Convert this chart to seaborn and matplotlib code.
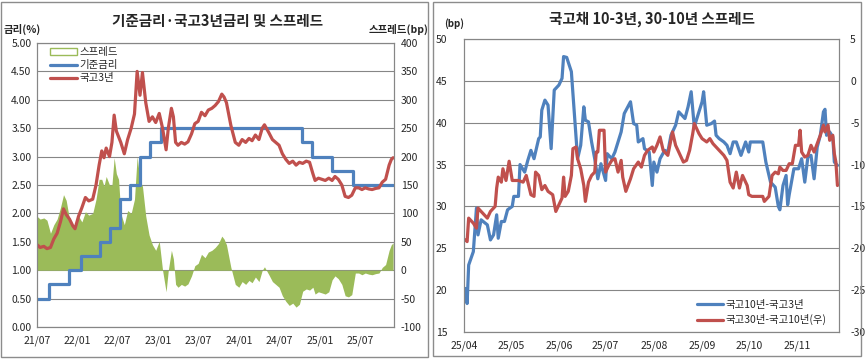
import numpy as np
import pandas as pd
import seaborn as sns
import matplotlib
matplotlib.use("Agg")
import matplotlib.pyplot as plt
import matplotlib.dates as mdates
from matplotlib.patches import Rectangle, Patch
from matplotlib.lines import Line2D

# ---------------- data: left chart ----------------
base_dates = ["2021-07-01", "2021-08-26", "2021-11-25", "2022-01-14", "2022-04-14",
              "2022-05-26", "2022-07-13", "2022-08-25", "2022-10-12", "2022-11-24",
              "2023-01-13", "2024-10-11", "2024-11-28", "2025-02-25", "2025-05-29",
              "2025-11-28"]
base_rate = [0.50, 0.75, 1.00, 1.25, 1.50, 1.75, 2.25, 2.50, 3.00, 3.25,
             3.50, 3.25, 3.00, 2.75, 2.50, 2.50]

ktb3_dates = ["2021-07-01", "2021-07-15", "2021-08-01", "2021-08-15", "2021-08-31",
              "2021-09-15", "2021-09-30", "2021-10-15", "2021-10-29", "2021-11-10",
              "2021-11-25", "2021-12-10", "2021-12-20", "2022-01-05", "2022-01-20",
              "2022-02-05", "2022-02-20", "2022-03-10", "2022-03-25", "2022-04-08",
              "2022-04-20", "2022-04-30", "2022-05-10", "2022-05-25", "2022-06-05",
              "2022-06-15", "2022-06-25", "2022-07-05", "2022-07-15", "2022-07-31",
              "2022-08-15", "2022-08-31", "2022-09-15", "2022-09-27", "2022-10-10",
              "2022-10-21", "2022-11-05", "2022-11-20", "2022-12-05", "2022-12-20",
              "2023-01-05", "2023-01-20", "2023-02-05", "2023-02-15", "2023-03-01",
              "2023-03-10", "2023-03-20", "2023-03-31", "2023-04-15", "2023-04-30",
              "2023-05-15", "2023-05-31", "2023-06-15", "2023-06-30", "2023-07-15",
              "2023-07-31", "2023-08-15", "2023-08-31", "2023-09-15", "2023-09-30",
              "2023-10-15", "2023-10-25", "2023-11-05", "2023-11-25", "2023-12-15",
              "2023-12-31", "2024-01-15", "2024-01-31", "2024-02-15", "2024-02-29",
              "2024-03-15", "2024-03-31", "2024-04-15", "2024-04-25", "2024-05-15",
              "2024-05-31", "2024-06-15", "2024-06-30", "2024-07-15", "2024-07-31",
              "2024-08-15", "2024-08-31", "2024-09-15", "2024-09-30", "2024-10-15",
              "2024-10-31", "2024-11-15", "2024-11-30", "2024-12-10", "2024-12-25",
              "2025-01-10", "2025-01-25", "2025-02-10", "2025-02-25", "2025-03-10",
              "2025-03-25", "2025-04-10", "2025-04-25", "2025-05-10", "2025-05-25",
              "2025-06-10", "2025-06-25", "2025-07-10", "2025-07-25", "2025-08-10",
              "2025-08-25", "2025-09-10", "2025-09-25", "2025-10-10", "2025-10-25",
              "2025-11-10", "2025-11-20", "2025-11-28"]
ktb3_yield = [1.45, 1.40, 1.42, 1.38, 1.40,
              1.55, 1.65, 1.85, 2.08, 1.98,
              1.90, 1.78, 1.73, 1.95, 2.10,
              2.28, 2.22, 2.25, 2.50, 2.85,
              3.10, 2.98, 3.15, 3.00, 3.25,
              3.73, 3.45, 3.35, 3.25, 3.05,
              3.30, 3.50, 3.75, 4.50, 4.08,
              4.48, 3.95, 3.62, 3.70, 3.60,
              3.76, 3.50, 3.12, 3.50, 3.85,
              3.70, 3.25, 3.20, 3.25, 3.22,
              3.26, 3.40, 3.58, 3.62, 3.78,
              3.72, 3.82, 3.85, 3.90, 3.97,
              4.10, 4.05, 3.95, 3.55, 3.25,
              3.20, 3.30, 3.25, 3.32, 3.28,
              3.38, 3.30, 3.50, 3.56, 3.42,
              3.30, 3.25, 3.20, 3.05, 2.95,
              2.88, 2.92, 2.85, 2.90, 2.88,
              2.92, 2.90, 2.70, 2.58, 2.62,
              2.60, 2.58, 2.62, 2.58, 2.65,
              2.60, 2.50, 2.30, 2.28, 2.32,
              2.45, 2.45, 2.42, 2.45, 2.43,
              2.42, 2.44, 2.45, 2.55, 2.60,
              2.85, 2.95, 2.98]

# ---------------- data: right chart ----------------
s103_dates = ["2025-04-02", "2025-04-03", "2025-04-04", "2025-04-07", "2025-04-09",
              "2025-04-10", "2025-04-12", "2025-04-16", "2025-04-18", "2025-04-20",
              "2025-04-22", "2025-04-23", "2025-04-25", "2025-04-27", "2025-04-29",
              "2025-05-02", "2025-05-03", "2025-05-06", "2025-05-07", "2025-05-10",
              "2025-05-12", "2025-05-14", "2025-05-16", "2025-05-19", "2025-05-20",
              "2025-05-21", "2025-05-23", "2025-05-25", "2025-05-27", "2025-05-29",
              "2025-06-01", "2025-06-03", "2025-06-04", "2025-06-06", "2025-06-09",
              "2025-06-11", "2025-06-13", "2025-06-15", "2025-06-17", "2025-06-18",
              "2025-06-20", "2025-06-22", "2025-06-24", "2025-06-26", "2025-06-28",
              "2025-07-01", "2025-07-02", "2025-07-05", "2025-07-07", "2025-07-09",
              "2025-07-11", "2025-07-13", "2025-07-17", "2025-07-19", "2025-07-21",
              "2025-07-22", "2025-07-25", "2025-07-26", "2025-07-29", "2025-07-31",
              "2025-08-01", "2025-08-03", "2025-08-05", "2025-08-08", "2025-08-10",
              "2025-08-12", "2025-08-15", "2025-08-17", "2025-08-19", "2025-08-21",
              "2025-08-23", "2025-08-25", "2025-08-27", "2025-08-30", "2025-09-01",
              "2025-09-02", "2025-09-04", "2025-09-07", "2025-09-09", "2025-09-10",
              "2025-09-12", "2025-09-15", "2025-09-17", "2025-09-19", "2025-09-21",
              "2025-09-23", "2025-09-26", "2025-09-29", "2025-10-01", "2025-10-02",
              "2025-10-10", "2025-10-12", "2025-10-15", "2025-10-18", "2025-10-20",
              "2025-10-21", "2025-10-23", "2025-10-25", "2025-10-26", "2025-10-27",
              "2025-10-30", "2025-11-02", "2025-11-04", "2025-11-06", "2025-11-08",
              "2025-11-10", "2025-11-12", "2025-11-14", "2025-11-16", "2025-11-18",
              "2025-11-19", "2025-11-20", "2025-11-22", "2025-11-24", "2025-11-25",
              "2025-11-27"]
s103 = [20.2, 18.4, 23.0, 24.6, 29.8,
        26.6, 28.4, 27.8, 26.0, 26.6,
        29.0, 26.2, 28.2, 28.2, 29.6,
        30.0, 31.2, 31.2, 35.0, 34.1,
        35.5, 36.7, 35.7, 38.1, 38.3,
        41.5, 42.7, 42.1, 36.9, 43.9,
        44.5, 45.3, 47.9, 47.8, 46.1,
        40.9, 35.7, 37.3, 41.9, 40.3,
        40.1, 37.7, 35.7, 33.3, 35.1,
        33.1, 36.3, 35.7, 36.5, 37.7,
        38.9, 41.1, 42.5, 39.9, 39.7,
        37.7, 38.1, 36.9, 36.5, 32.5,
        35.3, 34.1, 35.7, 36.7, 36.5,
        38.5, 39.7, 41.3, 40.9, 40.5,
        41.9, 43.7, 39.5, 41.3, 42.5,
        43.7, 39.7, 39.9, 40.2, 38.5,
        38.1, 37.7, 37.3, 36.3, 37.7,
        37.7, 36.1, 37.7, 36.5, 37.7,
        37.7, 35.3, 32.9, 32.3, 30.0,
        29.6, 32.5, 33.7, 30.2, 31.4,
        34.5, 34.5, 35.7, 32.9, 35.9,
        36.1, 33.3, 37.1, 38.5, 41.3,
        41.6, 38.5, 38.9, 38.3, 35.3,
        34.9]

s3010_dates = ["2025-04-02", "2025-04-03", "2025-04-04", "2025-04-07", "2025-04-09",
               "2025-04-10", "2025-04-12", "2025-04-16", "2025-04-18", "2025-04-21",
               "2025-04-22", "2025-04-23", "2025-04-25", "2025-04-26", "2025-04-28",
               "2025-04-30", "2025-05-02", "2025-05-06", "2025-05-09", "2025-05-11",
               "2025-05-14", "2025-05-16", "2025-05-17", "2025-05-19", "2025-05-21",
               "2025-05-23", "2025-05-25", "2025-05-28", "2025-05-30", "2025-06-01",
               "2025-06-03", "2025-06-04", "2025-06-05", "2025-06-07", "2025-06-09",
               "2025-06-10", "2025-06-12", "2025-06-13", "2025-06-15", "2025-06-17",
               "2025-06-18", "2025-06-20", "2025-06-22", "2025-06-24", "2025-06-25",
               "2025-06-26", "2025-06-27", "2025-06-30", "2025-07-01", "2025-07-03",
               "2025-07-05", "2025-07-07", "2025-07-09", "2025-07-11", "2025-07-12",
               "2025-07-14", "2025-07-17", "2025-07-19", "2025-07-22", "2025-07-24",
               "2025-07-26", "2025-07-28", "2025-07-31", "2025-08-01", "2025-08-03",
               "2025-08-05", "2025-08-07", "2025-08-10", "2025-08-13", "2025-08-15",
               "2025-08-18", "2025-08-20", "2025-08-22", "2025-08-24", "2025-08-26",
               "2025-08-27", "2025-08-30", "2025-09-01", "2025-09-04", "2025-09-06",
               "2025-09-08", "2025-09-10", "2025-09-12", "2025-09-15", "2025-09-17",
               "2025-09-19", "2025-09-21", "2025-09-23", "2025-09-25", "2025-09-27",
               "2025-09-30", "2025-10-01", "2025-10-03", "2025-10-10", "2025-10-11",
               "2025-10-14", "2025-10-16", "2025-10-18", "2025-10-20", "2025-10-21",
               "2025-10-23", "2025-10-25", "2025-10-27", "2025-10-29", "2025-10-31",
               "2025-11-02", "2025-11-03", "2025-11-04", "2025-11-06", "2025-11-08",
               "2025-11-10", "2025-11-12", "2025-11-14", "2025-11-16", "2025-11-18",
               "2025-11-19", "2025-11-21", "2025-11-22", "2025-11-24", "2025-11-25",
               "2025-11-26", "2025-11-27"]
s3010 = [-19.0, -19.2, -16.4, -17.0, -17.6,
         -15.2, -15.6, -16.4, -15.6, -15.0,
         -12.8, -11.5, -12.1, -10.5, -11.9,
         -9.6, -11.9, -11.9, -12.1, -11.3,
         -13.6, -13.8, -10.9, -11.3, -13.0,
         -12.5, -13.2, -13.6, -15.6, -14.8,
         -14.0, -11.5, -13.8, -13.2, -11.3,
         -8.1, -7.9, -9.3, -10.5, -12.5,
         -14.4, -12.1, -11.3, -10.9, -8.5,
         -8.5, -5.9, -5.9, -10.9, -10.1,
         -9.5, -9.3, -10.9, -9.5, -11.5,
         -13.2, -11.7, -10.5, -9.7, -10.3,
         -8.9, -8.3, -7.9, -8.5, -7.7,
         -6.7, -8.3, -8.9, -6.1, -7.7,
         -8.9, -9.7, -9.5, -8.3, -6.3,
         -5.1, -6.3, -6.9, -7.3, -6.9,
         -7.5, -7.9, -8.3, -8.9, -9.5,
         -12.1, -12.8, -10.9, -12.8, -11.3,
         -12.5, -13.6, -13.8, -13.8, -14.4,
         -13.8, -11.3, -10.9, -11.1, -10.3,
         -10.7, -10.7, -9.9, -9.9, -7.7,
         -7.7, -5.9, -8.5, -9.1, -8.9,
         -7.7, -8.5, -7.5, -6.5, -5.3,
         -6.1, -5.3, -7.1, -6.5, -8.7,
         -9.7, -12.5]

BLUE = "#4F81BD"
RED = "#C0504D"
GREEN = "#9BBB59"
GRID = "#868686"

sns.set_style("white")
plt.rcParams["font.family"] = ["Noto Sans CJK KR", "DejaVu Sans"]
plt.rcParams["axes.unicode_minus"] = False

W, H = 867, 359
fig = plt.figure(figsize=(W / 100, H / 100), dpi=100)


def fx(px):
    return px / W


def fy(py):
    return 1 - py / H


# panel frames
fig.add_artist(Rectangle((fx(0.5), fy(357)), fx(427.5), 355 / H, transform=fig.transFigure,
                         fill=False, ec="#8c8c8c", lw=1))
fig.add_artist(Rectangle((fx(433), fy(356)), fx(428), 354 / H, transform=fig.transFigure,
                         fill=False, ec="#8c8c8c", lw=1))

# ================= left chart =================
b_d = pd.to_datetime(base_dates)
g_d = pd.to_datetime(ktb3_dates)
idx = np.searchsorted(b_d.values, g_d.values, side="right") - 1
spread_bp = (np.array(ktb3_yield) - np.array(base_rate)[idx]) * 100

axL = fig.add_axes([fx(37), fy(327), fx(394 - 37), (327 - 43) / H])
axR = axL.twinx()
axL.set_zorder(axR.get_zorder() + 1)
axL.patch.set_visible(False)
axR.patch.set_facecolor("white")

axR.fill_between(g_d, 0, spread_bp, color=GREEN, lw=0)
sns.lineplot(x=b_d, y=base_rate, ax=axL, color=BLUE, lw=2.3, drawstyle="steps-post",
             errorbar=None, legend=False)
sns.lineplot(x=g_d, y=ktb3_yield, ax=axL, color=RED, lw=2.3, errorbar=None, legend=False)

axL.set_ylim(0, 5)
axR.set_ylim(-100, 400)
axL.set_yticks(np.arange(0, 5.01, 0.5))
axL.set_yticklabels([f"{v:.2f}" for v in np.arange(0, 5.01, 0.5)])
axR.set_yticks(np.arange(-100, 401, 50))
axR.yaxis.grid(True, color=GRID, lw=0.8)
axR.set_axisbelow(True)
axL.set_xlim(pd.Timestamp("2021-07-01"), pd.Timestamp("2025-12-02"))
axL.set_xticks(pd.date_range("2021-07-01", "2025-07-01", freq="6MS"))
axL.xaxis.set_major_formatter(mdates.DateFormatter("%y/%m"))

for ax in (axL, axR):
    ax.set_xlabel("")
    ax.set_ylabel("")
    for s in ax.spines.values():
        s.set_color(GRID)
        s.set_linewidth(0.8)
axL.tick_params(axis="x", direction="out", length=4, color=GRID, labelsize=7.5, pad=2)
axL.tick_params(axis="y", length=0, labelsize=7.5, pad=4)
axR.tick_params(axis="y", length=0, labelsize=7.5, pad=5)

hL = [Patch(facecolor="white", edgecolor=GREEN, lw=1),
      Line2D([], [], color=BLUE, lw=2.3),
      Line2D([], [], color=RED, lw=2.3)]
axL.legend(hL, ["스프레드", "기준금리", "국고3년"], loc="upper left",
           bbox_to_anchor=(fx(50), fy(47)), bbox_transform=fig.transFigure,
           frameon=False, fontsize=7.5, handlelength=2.6, handletextpad=0.2,
           labelspacing=0.3, borderpad=0, borderaxespad=0, handleheight=0.6)

fig.text(fx(218), fy(21), "기준금리·국고3년금리 및 스프레드", ha="center", va="center",
         fontsize=10.5, fontweight="bold")
fig.text(fx(4), fy(29), "금리(%)", ha="left", va="center", fontsize=7.5, fontweight="bold")
fig.text(fx(428), fy(29), "스프레드(bp)", ha="right", va="center", fontsize=7.5,
         fontweight="bold")

# ================= right chart =================
d1 = pd.to_datetime(s103_dates)
d2 = pd.to_datetime(s3010_dates)

ax1 = fig.add_axes([fx(464), fy(332), fx(839 - 464), (332 - 39) / H])
ax2 = ax1.twinx()
sns.lineplot(x=d1, y=s103, ax=ax1, color=BLUE, lw=2.3, errorbar=None, legend=False)
sns.lineplot(x=d2, y=s3010, ax=ax2, color=RED, lw=2.3, errorbar=None, legend=False)

ax1.set_ylim(15, 50)
ax2.set_ylim(-30, 5)
ax1.set_yticks(range(15, 51, 5))
ax2.set_yticks(range(-30, 6, 5))
ax1.yaxis.grid(True, color=GRID, lw=0.8)
ax1.set_axisbelow(True)
ax1.set_xlim(pd.Timestamp("2025-04-01"), pd.Timestamp("2025-11-28"))
ax1.set_xticks(pd.date_range("2025-04-01", "2025-11-01", freq="MS"))
ax1.xaxis.set_major_formatter(mdates.DateFormatter("%y/%m"))

for ax in (ax1, ax2):
    ax.set_xlabel("")
    ax.set_ylabel("")
    for s in ax.spines.values():
        s.set_color(GRID)
        s.set_linewidth(0.8)
ax1.tick_params(axis="x", direction="out", length=4, color=GRID, labelsize=7.5, pad=2)
ax1.tick_params(axis="y", length=0, labelsize=7.5, pad=12)
ax2.tick_params(axis="y", length=0, labelsize=7.5, pad=8)

hR = [Line2D([], [], color=BLUE, lw=2.3), Line2D([], [], color=RED, lw=2.3)]
ax2.legend(hR, ["국고10년-국고3년", "국고30년-국고10년(우)"], loc="upper left",
           bbox_to_anchor=(fx(697), fy(300)), bbox_transform=fig.transFigure,
           frameon=False, fontsize=7.5, handlelength=2.5, handletextpad=0.2,
           labelspacing=0.42, borderpad=0, borderaxespad=0)

fig.text(fx(652), fy(19), "국고채 10-3년, 30-10년 스프레드", ha="center", va="center",
         fontsize=10.5, fontweight="bold")
fig.text(fx(444), fy(24), "(bp)", ha="left", va="center", fontsize=7, fontweight="bold")

fig.savefig("out.png", dpi=100)
